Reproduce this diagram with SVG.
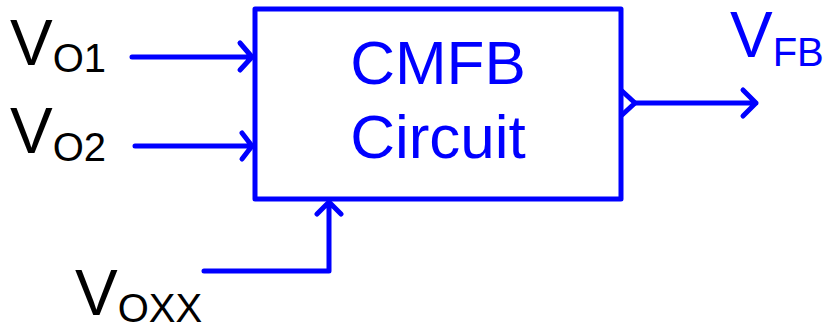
<svg xmlns="http://www.w3.org/2000/svg" width="827" height="328" viewBox="0 0 827 328">
<style>
.w{fill:none;stroke:#0000FF;stroke-width:5;stroke-linecap:round;stroke-linejoin:round}
.t{font-family:"Liberation Sans",Arial,sans-serif}
.bl{fill:#0000FF}
.k{fill:#000000}
</style>
<rect width="827" height="328" fill="#FFFFFF"/>
<g id="cmfb">
<rect x="255" y="9" width="366" height="190" class="w" stroke-linecap="butt" stroke-linejoin="miter"/>
<path class="w" d="M622,91 L635,103 L622,115"/>
<text class="t bl" x="438" y="84" font-size="62" text-anchor="middle">CMFB</text>
<text class="t bl" x="438" y="158" font-size="62" text-anchor="middle">Circuit</text>
</g>
<g id="vo1">
<text class="t k" x="10" y="65" font-size="64">V<tspan font-size="40" dy="7">O1</tspan></text>
</g>
<g id="vo2">
<text class="t k" x="10" y="153" font-size="64">V<tspan font-size="40" dy="8">O2</tspan></text>
</g>
<g id="voxx">
<text class="t k" x="75" y="315" font-size="64">V<tspan font-size="40" dy="7">OXX</tspan></text>
</g>
<g id="vfb">
<text class="t bl" x="730" y="57" font-size="64">V<tspan font-size="40" dy="9">FB</tspan></text>
</g>
<g id="connectors">
<path class="w" d="M132,57 L252,57 M240,43 L252,57 L240,70"/>
<path class="w" d="M135,146 L252,146 M242,133 L252,146 L242,159"/>
<path class="w" d="M204,271 L329,271 L329,202 M317,214 L329,202 L341,214"/>
<path class="w" d="M635,103 L756,103 M743,90 L756,103 L743,116"/>
</g>
</svg>
